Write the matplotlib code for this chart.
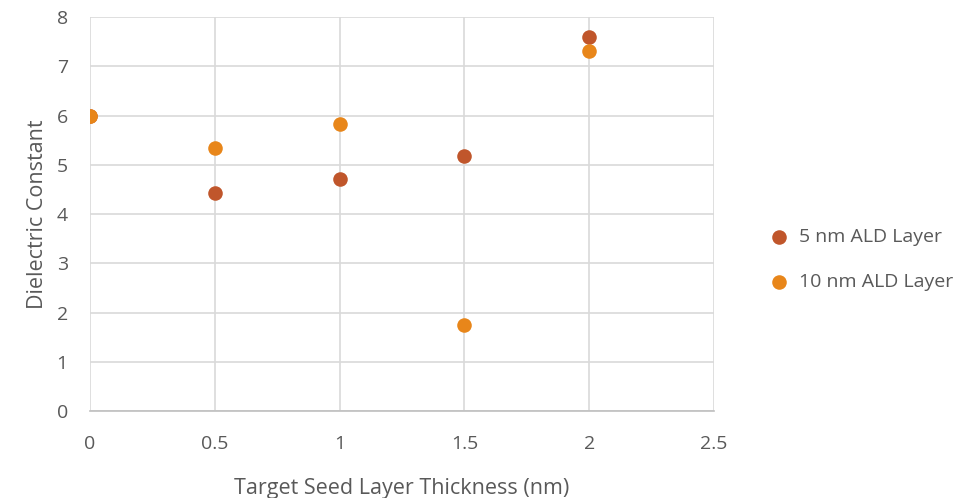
import numpy as np
import matplotlib as mpl
mpl.use('Agg')
from matplotlib import pyplot as plt

# thickness of target seed layer (nm)
x_5nm = [0.0, 0.5, 1.0, 1.5, 2.0]
k_5nm = [5.98, 4.43, 4.72, 5.17, 7.60]
x_10nm = [0.0, 0.5, 1.0, 1.5, 2.0]
k_10nm = [5.98, 5.33, 5.82, 1.75, 7.31]

xticks = [0, 0.5, 1, 1.5, 2, 2.5]
yticks = [0, 1, 2, 3, 4, 5, 6, 7, 8]

plt.rcParams['font.family'] = ['Open Sans', 'DejaVu Sans']

fig = plt.figure(figsize=(9.68, 4.98), dpi=100)
ax = fig.add_axes([90/968, 1 - 411/498, 624/968, 394/498])

ax.scatter(x_5nm, k_5nm, s=110, c="#C0562B", label="5 nm ALD Layer", zorder=3, linewidths=0)
ax.scatter(x_10nm, k_10nm, s=110, c="#E8861A", label="10 nm ALD Layer", zorder=4, linewidths=0)

ax.set_xlim(0, 2.5)
ax.set_ylim(0, 8)
ax.set_xticks(xticks)
ax.set_xticklabels([str(t) for t in xticks])
ax.set_yticks(yticks)
ax.grid(True, color="#D9D9D9", linewidth=1.2)
ax.set_axisbelow(True)
for s in ax.spines.values():
    s.set_visible(False)
ax.spines['bottom'].set_visible(True)
ax.spines['bottom'].set_color("#BFBFBF")
ax.spines['bottom'].set_linewidth(1.2)
ax.tick_params(length=0, labelsize=14, labelcolor="#595959")
ax.tick_params(axis='x', pad=17)
ax.tick_params(axis='y', pad=16)
ax.set_xlabel("Target Seed Layer Thickness (nm)", fontsize=15.5, color="#595959", labelpad=18)
ax.set_ylabel("Dielectric Constant", fontsize=15.5, color="#595959", labelpad=6)

ax.legend(loc="center left", bbox_to_anchor=(1.045, 0.385), frameon=False, fontsize=14,
          labelcolor="#595959", handletextpad=0.05, labelspacing=1.4, markerscale=1.0)

fig.savefig("out.png")
